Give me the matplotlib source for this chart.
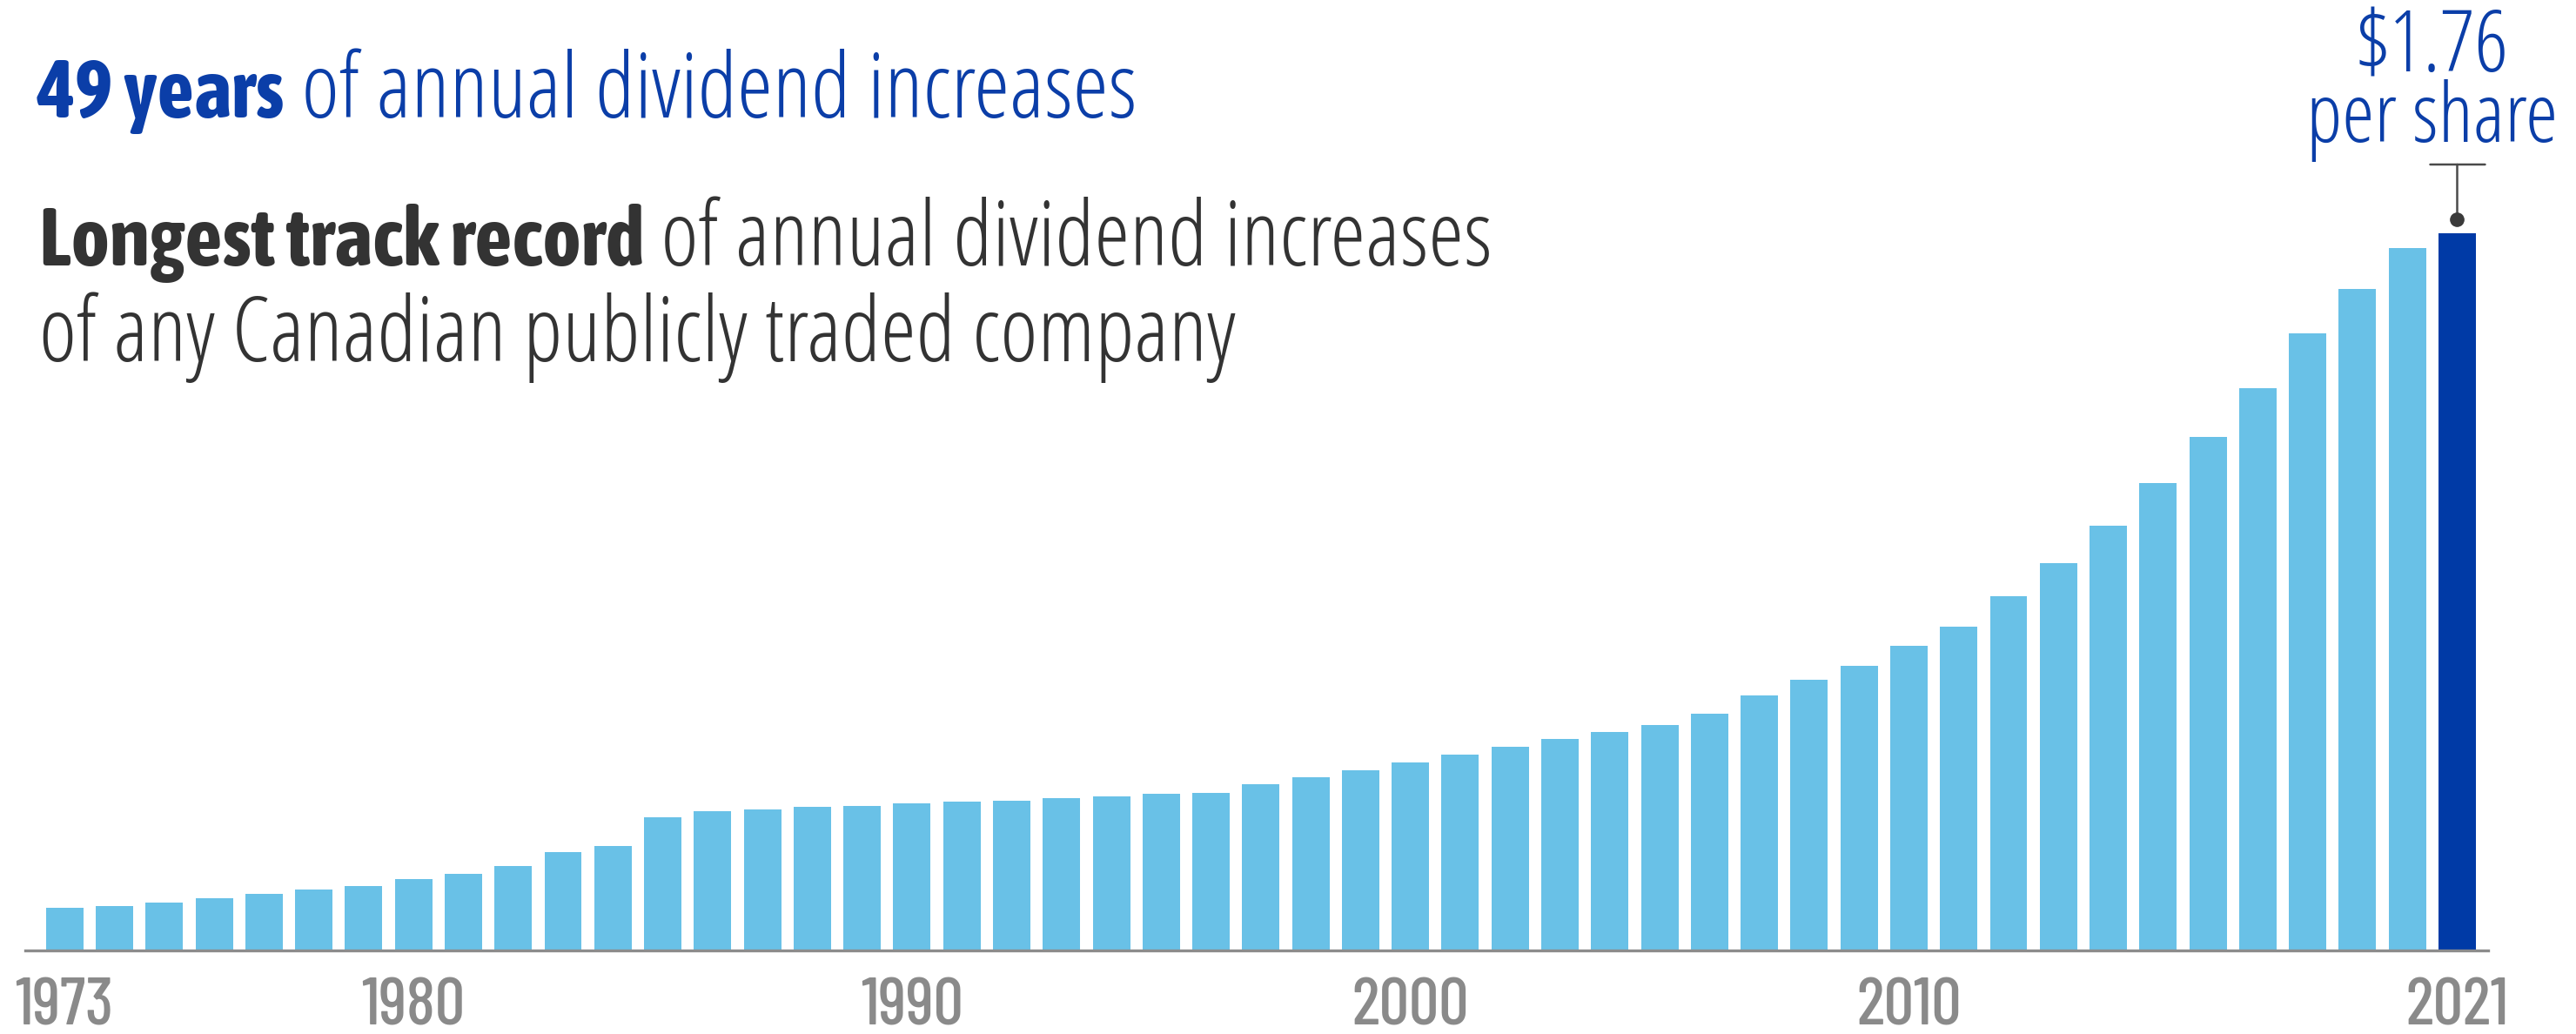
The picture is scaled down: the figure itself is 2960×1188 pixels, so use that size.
import os
import matplotlib
matplotlib.use("Agg")
import matplotlib.pyplot as plt
from matplotlib import font_manager as fm
from matplotlib.transforms import offset_copy

# ---------------- data ----------------
years = list(range(1973, 2022))
dividends = [
    0.104, 0.110, 0.117, 0.129, 0.139, 0.149, 0.158, 0.175, 0.187, 0.207,
    0.242, 0.256, 0.326, 0.342, 0.345, 0.352, 0.355, 0.361, 0.365, 0.368,
    0.374, 0.377, 0.384, 0.387, 0.407, 0.425, 0.442, 0.461, 0.480, 0.499,
    0.518, 0.537, 0.553, 0.580, 0.625, 0.664, 0.699, 0.747, 0.795, 0.870,
    0.951, 1.042, 1.147, 1.260, 1.379, 1.514, 1.623, 1.723, 1.76,
]
tick_years = [1973, 1980, 1990, 2000, 2010, 2021]
tick_labels = ["1973", "1980", "1990", "2000", "2010", "2021"]
highlight_label = "$1.76\nper share"
title_bold = "49 years"
title_rest = " of annual dividend increases"
sub_bold = "Longest track record"
sub_rest = " of annual dividend increases"
sub_line2 = "of any Canadian publicly traded company"

LIGHT = "#69c1e7"
DARK = "#003aa6"
BLUE_TXT = "#0b3ea8"
GRAY_TXT = "#333333"
TICK_GRAY = "#8a8a8a"

# ---------------- fonts ----------------
_files = {}
for f in fm.fontManager.ttflist:
    _files.setdefault(os.path.splitext(os.path.basename(f.fname))[0].lower(), f.fname)


def pick(names, fb_family="DejaVu Sans", fb_weight="normal"):
    for n in names:
        p = _files.get(n.lower())
        if p:
            return fm.FontProperties(fname=p)
    return fm.FontProperties(family=fb_family, weight=fb_weight)


fp_light = pick(["OpenSans-CondLight", "OpenSans_Condensed-Light", "NotoSans-CondensedLight",
                 "RobotoCondensed-Light", "DejaVuSansCondensed"])
fp_bold = pick(["AsapCondensed-Bold", "OpenSans-CondBold", "BarlowCondensed-SemiBold",
                "RobotoCondensed-Bold", "DejaVuSansCondensed-Bold"], fb_weight="bold")
fp_tick = pick(["BarlowCondensed-Medium", "BarlowCondensed-Regular", "RobotoCondensed-Regular",
                "DejaVuSansCondensed"])


def fp(base, size):
    p = base.copy()
    p.set_size(size)
    return p


# ---------------- figure ----------------
W, H, DPI = 2960, 1188, 100
fig = plt.figure(figsize=(W / DPI, H / DPI), dpi=DPI)
fig.patch.set_facecolor("white")

ax_left, ax_right = 29, 2859
base_y, top_y = 1092, 268
ax = fig.add_axes([ax_left / W, (H - base_y) / H, (ax_right - ax_left) / W, (base_y - top_y) / H])

colors = [LIGHT] * (len(years) - 1) + [DARK]
ax.bar(years, dividends, width=0.75, color=colors, linewidth=0, zorder=2)

ax.set_xlim(1973 - 0.79, 2021 + 0.62)
ax.set_ylim(0, max(dividends))
for s in ["top", "right", "left"]:
    ax.spines[s].set_visible(False)
ax.spines["bottom"].set_color("#8c8c8c")
ax.spines["bottom"].set_linewidth(2.4)
ax.spines["bottom"].set_zorder(3)
ax.set_yticks([])
ax.set_xticks(tick_years)
ax.set_xticklabels(tick_labels, fontproperties=fp(fp_tick, 55), color=TICK_GRAY)
ax.tick_params(axis="x", length=0, pad=23)
ax.set_facecolor("none")

# ---------------- highlight annotation ----------------
x_last, y_last = years[-1], dividends[-1]
t_dot = offset_copy(ax.transData, fig=fig, x=0, y=16, units="dots")
ax.plot([x_last], [y_last], "o", color="#3a3a3a", markersize=11, transform=t_dot, clip_on=False, zorder=5)


def seg(dx0, dy0, dx1, dy1):
    t0 = offset_copy(ax.transData, fig=fig, x=dx0, y=dy0, units="dots")
    t1 = offset_copy(ax.transData, fig=fig, x=dx1, y=dy1, units="dots")
    ax.annotate("", xy=(x_last, y_last), xycoords=t0, xytext=(x_last, y_last), textcoords=t1,
                arrowprops=dict(arrowstyle="-", color="#4a4a4a", lw=1.8, shrinkA=0, shrinkB=0),
                annotation_clip=False)


seg(0, 16, 0, 79)
seg(-31, 79, 32, 79)

lab1, lab2 = highlight_label.split("\n")
ax.text(x_last, y_last, lab1, transform=offset_copy(ax.transData, fig=fig, x=-29, y=185, units="dots"),
        ha="center", va="baseline", color=BLUE_TXT, fontproperties=fp(fp_light, 70), clip_on=False)
ax.text(x_last, y_last, lab2, transform=offset_copy(ax.transData, fig=fig, x=-29, y=105, units="dots"),
        ha="center", va="baseline", color=BLUE_TXT, fontproperties=fp(fp_light, 68), clip_on=False)

# ---------------- titles ----------------
renderer = fig.canvas.get_renderer()


def rich_line(x_px, base_px, parts):
    x = x_px / W
    for txt, prop, col in parts:
        t = fig.text(x, (H - base_px) / H, txt, fontproperties=prop, color=col, va="baseline", ha="left")
        bb = t.get_window_extent(renderer=renderer)
        x = bb.x1 / W


rich_line(43, 135, [(title_bold, fp(fp_bold, 67), BLUE_TXT), (title_rest, fp(fp_light, 75), BLUE_TXT)])
rich_line(45, 305, [(sub_bold, fp(fp_bold, 68), GRAY_TXT), (sub_rest, fp(fp_light, 74.5), GRAY_TXT)])
rich_line(45, 415, [(sub_line2, fp(fp_light, 74.5), GRAY_TXT)])

fig.savefig("out.png", dpi=DPI, facecolor="white")
